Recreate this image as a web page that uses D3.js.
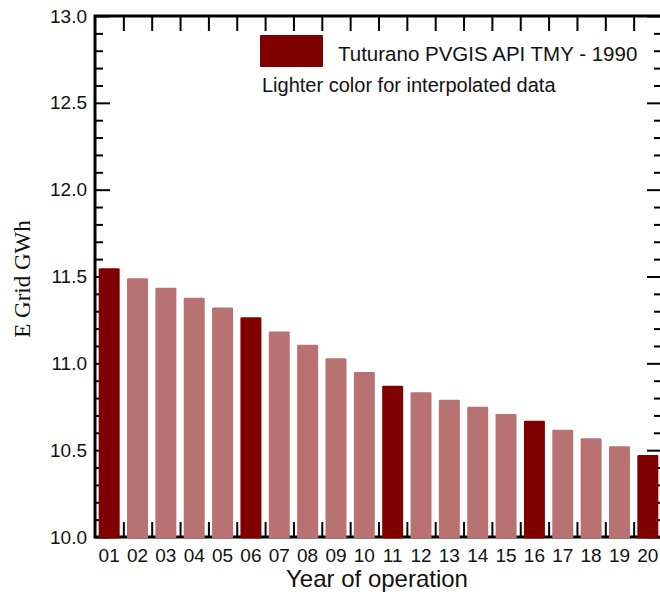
<!DOCTYPE html>
<html>
<head>
<meta charset="utf-8">
<script src="https://cdn.jsdelivr.net/npm/d3@7"></script>
<style>
  html, body { margin: 0; padding: 0; background: #fff; }
  svg { display: block; }
  text { font-family: "Liberation Sans", Arial, sans-serif; fill: #111; }
</style>
</head>
<body>
<svg id="chart" width="660" height="599"></svg>
<script>
// Yearly energy delivered to the grid over 20 years of operation
const years = ["01","02","03","04","05","06","07","08","09","10",
               "11","12","13","14","15","16","17","18","19","20"];
const eGrid = [11.547, 11.49, 11.435, 11.378, 11.322, 11.265, 11.184, 11.107, 11.029, 10.95,
               10.871, 10.833, 10.79, 10.75, 10.708, 10.67, 10.618, 10.568, 10.522, 10.472];
// true = simulated year, false = interpolated year
const simulated = [true, false, false, false, false, true, false, false, false, false,
                   true, false, false, false, false, true, false, false, false, true];
const yMajorTicks = [10.0, 10.5, 11.0, 11.5, 12.0, 12.5, 13.0];
const legendLabel = "Tuturano PVGIS API TMY - 1990";
const legendNote = "Lighter color for interpolated data";

const DARK = "#800000";
const LIGHT = "#b87272";

const svg = d3.select("#chart");
const plotL = 95, plotR = 662, plotT = 16, plotB = 537;

const x = d3.scaleBand().domain(years).range([plotL, plotR])
  .paddingInner(0.26).paddingOuter(0.13);
const y = d3.scaleLinear().domain([10, 13]).range([plotB, plotT]);

const minorTicks = d3.range(100, 131).map(v => v / 10)
  .filter(v => !yMajorTicks.some(m => Math.abs(m - v) < 1e-9));
// boundaries between neighbouring bars
const boundaries = years.slice(0, -1)
  .map(d => x(d) + x.bandwidth() + x.step() * x.paddingInner() / 2);

const axisStroke = g => {
  g.select(".domain").remove();
  g.selectAll(".tick line").attr("stroke", "#000").attr("stroke-width", 2);
};

// left axis: major ticks with labels, minor ticks without
svg.append("g").attr("transform", `translate(${plotL},0)`)
  .call(d3.axisLeft(y).tickValues(yMajorTicks).tickFormat(d3.format(".1f")).tickSize(-15))
  .call(axisStroke)
  .call(g => g.selectAll(".tick text").attr("font-size", 19).attr("fill", "#111")
    .attr("font-family", "Liberation Sans, Arial, sans-serif").attr("x", -8));
svg.append("g").attr("transform", `translate(${plotL},0)`)
  .call(d3.axisLeft(y).tickValues(minorTicks).tickFormat("").tickSize(-8))
  .call(axisStroke);

// right axis mirrors the left one
svg.append("g").attr("transform", `translate(${plotR},0)`)
  .call(d3.axisRight(y).tickValues(yMajorTicks).tickFormat("").tickSize(-15))
  .call(axisStroke);
svg.append("g").attr("transform", `translate(${plotR},0)`)
  .call(d3.axisRight(y).tickValues(minorTicks).tickFormat("").tickSize(-8))
  .call(axisStroke);

// top and bottom ticks between bars
const xb = d3.scaleLinear().domain([plotL, plotR]).range([plotL, plotR]);
svg.append("g").attr("transform", `translate(0,${plotT})`)
  .call(d3.axisTop(xb).tickValues(boundaries).tickFormat("").tickSize(-15))
  .call(axisStroke);
svg.append("g").attr("transform", `translate(0,${plotB})`)
  .call(d3.axisBottom(xb).tickValues(boundaries).tickFormat("").tickSize(-15))
  .call(axisStroke);

// frame
svg.append("rect").attr("x", plotL).attr("y", plotT)
  .attr("width", plotR - plotL).attr("height", plotB - plotT)
  .attr("fill", "none").attr("stroke", "#000").attr("stroke-width", 3);

// bars
svg.append("g").selectAll("rect").data(years).join("rect")
  .attr("x", d => x(d))
  .attr("y", (d, i) => y(eGrid[i]))
  .attr("width", x.bandwidth())
  .attr("height", (d, i) => y(10) - y(eGrid[i]) + 1.5)
  .attr("rx", 1.2)
  .attr("fill", (d, i) => simulated[i] ? DARK : LIGHT);

// x tick labels
svg.append("g").selectAll("text").data(years).join("text")
  .attr("x", d => x(d) + x.bandwidth() / 2)
  .attr("y", 562)
  .attr("text-anchor", "middle")
  .attr("font-size", 19)
  .text(d => d);

// axis titles
svg.append("text").attr("x", 377).attr("y", 587)
  .attr("text-anchor", "middle").attr("font-size", 24).text("Year of operation");
svg.append("text")
  .attr("transform", `translate(30,279) rotate(-90)`)
  .attr("text-anchor", "middle").attr("font-size", 23)
  .style("font-family", "Liberation Serif, Times New Roman, serif")
  .text("E Grid GWh");

// legend
const lg = svg.append("g");
lg.append("rect").attr("x", 260).attr("y", 35).attr("width", 63).attr("height", 32)
  .attr("rx", 1).attr("fill", DARK);
lg.append("text").attr("x", 338).attr("y", 61).attr("font-size", 20.5).text(legendLabel);
lg.append("text").attr("x", 262).attr("y", 92).attr("font-size", 20).text(legendNote);
</script>
</body>
</html>
